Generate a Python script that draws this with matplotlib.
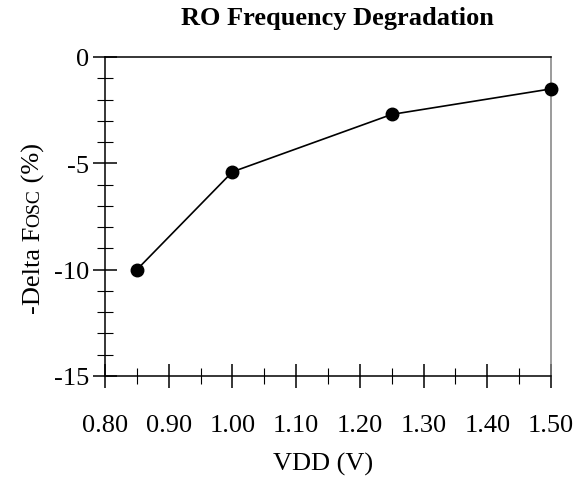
import matplotlib
matplotlib.use("Agg")
import matplotlib.pyplot as plt
from matplotlib.ticker import MultipleLocator, FormatStrFormatter

# Datos
vdd = [0.85, 1.00, 1.25, 1.50]
delta_fosc = [-10.0, -5.4, -2.7, -1.5]

x_ticks = [0.80, 0.90, 1.00, 1.10, 1.20, 1.30, 1.40, 1.50]
y_ticks = [-15, -10, -5, 0]

plt.rcParams['font.family'] = ['Liberation Serif', 'DejaVu Serif']
plt.rcParams['axes.unicode_minus'] = False

fig = plt.figure(figsize=(5.85, 4.81), dpi=100)
ax = fig.add_axes([105 / 585, 1 - 377 / 481, 446 / 585, 319 / 481])

ax.plot(vdd, delta_fosc, color='black', linewidth=1.2, marker='o',
        markersize=9, markerfacecolor='black', clip_on=False, zorder=5)

ax.set_xlim(0.80, 1.50)
ax.set_ylim(-15, 0)
ax.set_xticks(x_ticks)
ax.set_yticks(y_ticks)
ax.xaxis.set_major_formatter(FormatStrFormatter('%.2f'))
ax.xaxis.set_minor_locator(MultipleLocator(0.05))
ax.yaxis.set_minor_locator(MultipleLocator(1))

ax.tick_params(which='major', direction='inout', length=17, width=1.1,
               labelsize=19, top=False, right=False)
ax.tick_params(which='minor', direction='inout', length=12, width=0.8,
               top=False, right=False)
ax.tick_params(axis='x', which='major', pad=19)
ax.tick_params(axis='y', which='major', pad=3)

for s in ['left', 'bottom', 'top']:
    ax.spines[s].set_color('black')
    ax.spines[s].set_linewidth(1.1)
ax.spines['right'].set_color('#808080')
ax.spines['right'].set_linewidth(1.1)

fig.text(337 / 585, 1 - 25 / 481, 'RO Frequency Degradation', ha='center',
         va='baseline', fontsize=19, fontweight='bold')
ax.set_xlabel('VDD (V)', fontsize=19, labelpad=14)
ax.xaxis.set_label_coords(323 / 585, -0.0, transform=fig.transFigure)
ax.xaxis.label.set_va('baseline')
ax.xaxis.label.set_position((323 / 585, 1 - 471 / 481))

# Etiqueta Y armada en partes para el "OSC" en versalitas
fig.canvas.draw()
r = fig.canvas.get_renderer()
x_base = 39.5 / 585
y_pos = 1 - 314 / 481
partes = [('-Delta F', 19), ('OSC', 14), (' (%)', 19)]
for texto, size in partes:
    t = fig.text(x_base, y_pos, texto, rotation=90, rotation_mode='anchor',
                 ha='left', va='baseline', fontsize=size)
    bb = t.get_window_extent(renderer=r)
    y_pos += bb.height / fig.bbox.height

fig.savefig('out.png', dpi=100)
